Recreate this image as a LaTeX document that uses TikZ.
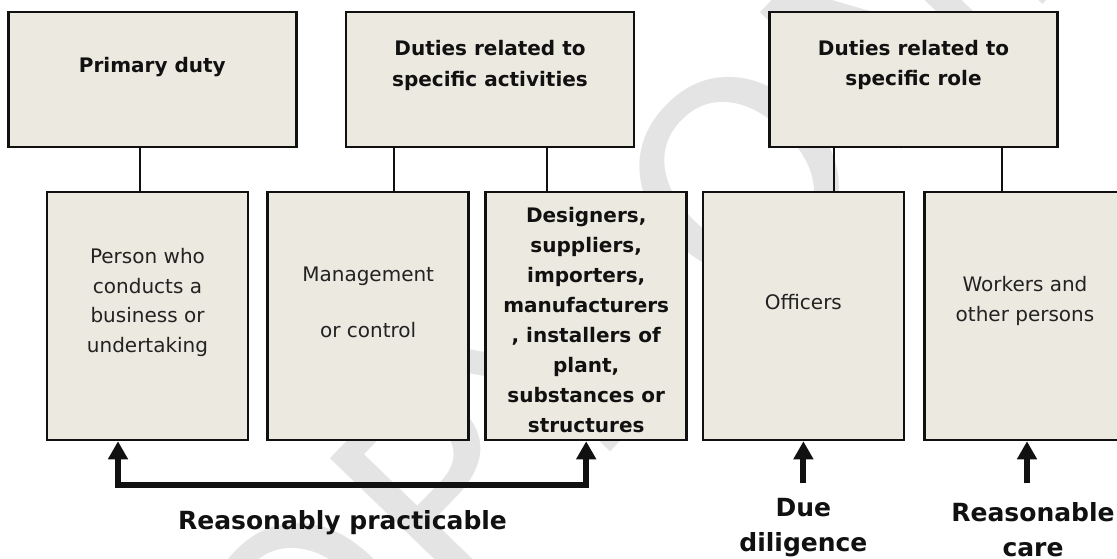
\documentclass[tikz,border=0pt]{standalone}
\usepackage{fontspec}
\setmainfont{DejaVu Sans}
\usetikzlibrary{arrows.meta,calc}
\definecolor{boxfill}{HTML}{ECE9E0}
\definecolor{ink}{HTML}{111111}
\definecolor{soft}{HTML}{222222}
\definecolor{stampgray}{HTML}{E4E4E4}
\tikzset{
  box/.style={draw=ink, line width=2.5pt, fill=boxfill, inner sep=0pt},
  topbox/.style={box, minimum width=288pt, minimum height=135pt},
  lowbox/.style={box, minimum width=201pt, minimum height=248pt},
  head/.style={align=center, text=ink, inner sep=0pt, font=\bfseries\fontsize{20}{30.5}\selectfont},
  bodytxt/.style={align=center, text=soft, inner sep=0pt, font=\fontsize{20}{29.5}\selectfont},
  boldtxt/.style={align=center, text=ink, inner sep=0pt, font=\bfseries\fontsize{20}{30}\selectfont},
  tag/.style={align=center, text=ink, inner sep=0pt, font=\bfseries\fontsize{25}{35}\selectfont},
  conn/.style={draw=ink, line width=2pt},
  bigline/.style={draw=ink, line width=6pt, line join=miter},
  tri/.tip={Triangle[width=19pt,length=18pt]},
}
\begin{document}
\begin{tikzpicture}[x=1pt,y=-1pt]
\clip (0,0) rectangle (1117,558);
\fill[white] (0,0) rectangle (1117,558);

% faint stamp behind the chart
\node[rotate=46, text=stampgray, inner sep=0pt, font=\fontsize{270}{270}\selectfont] (stamp) at (626,294) {COPY ONLY};

% upper row: kinds of duty
\node[topbox] (t1) at (152.3,79.5) {};
\node[topbox] (t2) at (490,79.5) {};
\node[topbox] (t3) at (913.5,79.5) {};
\node[head] (t1x) at (152.3,67) {Primary duty};
\node[head] (t2x) at (490,65.5) {Duties related to\\specific activities};
\node[head] (t3x) at (913.5,65) {Duties related to\\specific role};

% lower row: duty holders
\node[lowbox] (b1) at (147.5,316) {};
\node[lowbox] (b2) at (368.2,316) {};
\node[lowbox] (b3) at (586.2,316) {};
\node[lowbox] (b4) at (803.4,316) {};
\node[lowbox, minimum width=205pt] (b5) at (1027,316) {};
\node[bodytxt] (b1x) at (147.5,302.5) {Person who\\conducts a\\business or\\undertaking};
\node[bodytxt] (b2x) at (368.2,302.5) {Management\\[26.7pt]or control};
\node[boldtxt] (b3x) at (586.2,320) {Designers,\\suppliers,\\importers,\\manufacturers\\, installers of\\plant,\\substances or\\structures};
\node[bodytxt] (b4x) at (803.4,302.5) {Officers};
\node[bodytxt] (b5x) at (1025,301) {Workers and\\other persons};

% links between the rows
\coordinate (k1) at ($(b1.north)+(-7.5,0)$);
\coordinate (k2) at ($(b2.north)+(25.3,0)$);
\coordinate (k3) at ($(b3.north)+(-39.2,0)$);
\coordinate (k4) at ($(b4.north)+(30.7,0)$);
\coordinate (k5) at ($(b5.north)+(-25,0)$);
\draw[conn] (k1 |- t1.south) -- (k1);
\draw[conn] (k2 |- t2.south) -- (k2);
\draw[conn] (k3 |- t2.south) -- (k3);
\draw[conn] (k4 |- t3.south) -- (k4);
\draw[conn] (k5 |- t3.south) -- (k5);

% standards of care
\coordinate (rpL) at ($(b1.south)+(-29.5,43.3)$);
\coordinate (rpR) at (b3.south |- rpL);
\draw[bigline, tri-tri] (rpL |- b1.south) -- (rpL) -- (rpR) -- (b3.south);
\coordinate (ofB) at ($(b4.south)+(0,42)$);
\draw[bigline, -tri] (ofB) -- (b4.south);
\coordinate (wkB) at ($(b5.south)+(0,42)$);
\draw[bigline, -tri] (wkB) -- (b5.south);

\node[tag, anchor=base] (rp) at (342.5,529) {Reasonably practicable};
\node[tag] (dd) at (803.4,528) {Due\\diligence};
\node[tag] (rc) at (1033,530) {Reasonable\\care};
\end{tikzpicture}
\end{document}
